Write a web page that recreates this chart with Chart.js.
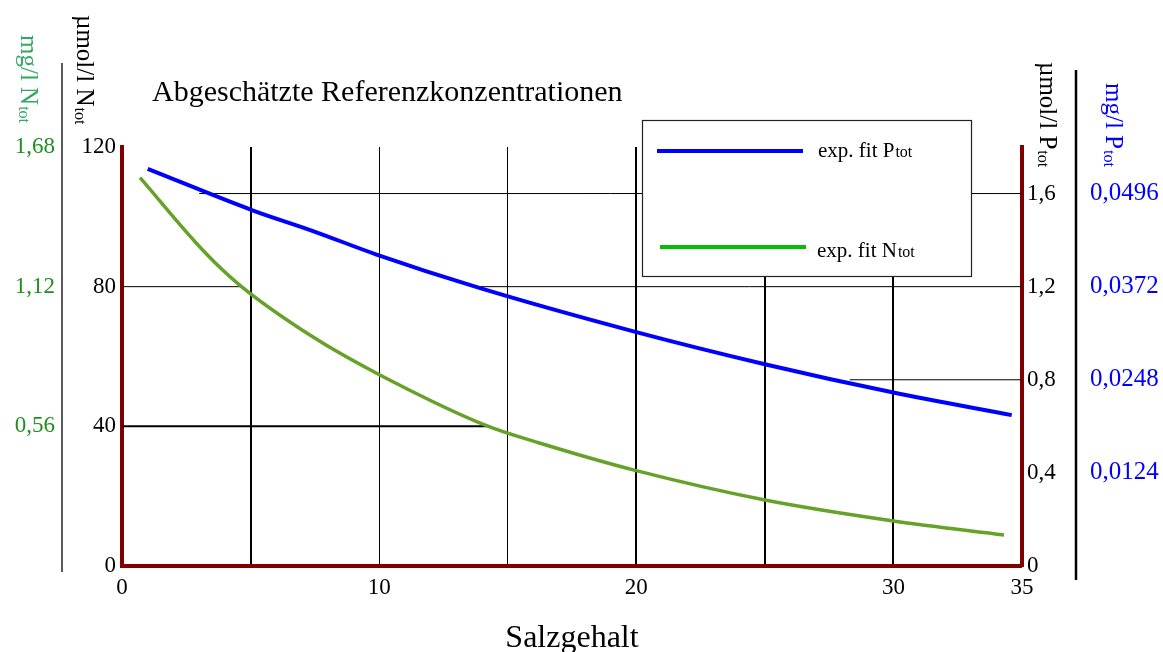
<!DOCTYPE html>
<html><head><meta charset="utf-8">
<script src="https://cdn.jsdelivr.net/npm/chart.js@4/dist/chart.umd.min.js"></script>
<style>html,body{margin:0;padding:0;background:#fff;}canvas{display:block;}</style>
</head><body>
<canvas id="c" width="1163" height="652"></canvas>
<script>
// ---- data ----
const salinityP = [1.0, 5.1, 7.4, 9.9, 13.8, 20.0, 25.0, 30.0, 34.6];
const ptotUmol  = [1.706, 1.527, 1.440, 1.338, 1.198, 1.005, 0.867, 0.745, 0.648];
const salinityN = [0.7, 3.2, 4.6, 7.4, 9.9, 14.2, 16.2, 20.0, 25.0, 30.0, 34.3];
const ntotUmol  = [111.2, 90.0, 80.3, 65.7, 55.2, 40.1, 35.3, 27.3, 18.9, 12.9, 8.9];
const xTicks    = [0, 5, 10, 15, 20, 25, 30, 35];
const xLabelled = [0, 10, 20, 30, 35];
const nTicks    = [0, 40, 80, 120];
const nMgTicks  = [0.56, 1.12, 1.68];
const pTicks    = [0, 0.4, 0.8, 1.2, 1.6];
const pMgTicks  = [0.0124, 0.0248, 0.0372, 0.0496];
const refNLevels = [80, 40];
const refNEnds   = [4.6, 14.2];
const refPLevels = [1.6, 1.2, 0.8];
const refPStarts = [3.0, 13.8, 28.3];
const titleText = 'Abgeschätzte Referenzkonzentrationen';
const xTitle = 'Salzgehalt';

const serif = "'Liberation Serif','Times New Roman',serif";
const axisRed = '#800000';
const curveGreen = '#66a22a';
const tickGreen = '#1f8f1f';
const titleGreen = '#35a862';
const thickX = [5, 20, 25, 30];
const thinX = [10, 15];

const toXY = (xs, ys) => xs.map((x, i) => ({x: x, y: ys[i]}));
const datasets = [
  {label: 'exp. fit Ptot', data: toXY(salinityP, ptotUmol), yAxisID: 'yP', borderColor: '#0000ff',
   borderWidth: 4, pointRadius: 0, cubicInterpolationMode: 'monotone', order: 0},
  {label: 'exp. fit Ntot', data: toXY(salinityN, ntotUmol), yAxisID: 'yN', borderColor: curveGreen,
   borderWidth: 3.5, pointRadius: 0, cubicInterpolationMode: 'monotone', order: 0}
];
refNLevels.forEach((v, i) => datasets.push({data: [{x: 0, y: v}, {x: refNEnds[i], y: v}], yAxisID: 'yN',
  borderColor: '#000', borderWidth: i === 1 ? 2 : 1, pointRadius: 0, order: 1}));
refPLevels.forEach((v, i) => datasets.push({data: [{x: refPStarts[i], y: v}, {x: 35, y: v}], yAxisID: 'yP',
  borderColor: '#000', borderWidth: 1, pointRadius: 0, order: 1}));

const setTicks = arr => scale => { scale.ticks = arr.map(v => ({value: v})); };
const comma = (v, d) => v.toFixed(d).replace('.', ',');

function rotText(ctx, x, y, main, sub, size, color) {
  ctx.save();
  ctx.translate(x, y);
  ctx.rotate(Math.PI / 2);
  ctx.fillStyle = color;
  ctx.textAlign = 'left';
  ctx.textBaseline = 'alphabetic';
  ctx.font = size + 'px ' + serif;
  ctx.fillText(main, 0, 0);
  const w = ctx.measureText(main).width;
  ctx.font = Math.round(size * 0.64) + 'px ' + serif;
  ctx.fillText(sub, w + 1, 2);
  ctx.restore();
}
function subText(ctx, x, y, main, sub, size, color) {
  ctx.save();
  ctx.fillStyle = color;
  ctx.textAlign = 'left';
  ctx.textBaseline = 'alphabetic';
  ctx.font = size + 'px ' + serif;
  ctx.fillText(main, x, y);
  const w = ctx.measureText(main).width;
  ctx.font = Math.round(size * 0.78) + 'px ' + serif;
  ctx.fillText(sub, x + w + 1, y);
  ctx.restore();
}

const decor = {
  id: 'decor',
  afterDatasetsDraw(chart) {
    const ctx = chart.ctx, a = chart.chartArea;
    // legend box
    const bx = a.left + 520, by = a.top - 27, bw = 329, bh = 156;
    ctx.save();
    ctx.fillStyle = '#fff';
    ctx.fillRect(bx, by, bw, bh);
    ctx.strokeStyle = '#222';
    ctx.lineWidth = 1.2;
    ctx.strokeRect(bx + 0.5, by + 0.5, bw, bh);
    ctx.lineWidth = 4;
    ctx.strokeStyle = chart.data.datasets[0].borderColor;
    ctx.beginPath(); ctx.moveTo(bx + 15, by + 31); ctx.lineTo(bx + 161, by + 31); ctx.stroke();
    ctx.strokeStyle = '#00c000';
    ctx.beginPath(); ctx.moveTo(bx + 18, by + 127); ctx.lineTo(bx + 164, by + 127); ctx.stroke();
    ctx.restore();
    subText(ctx, bx + 176, by + 37, 'exp. fit P', 'tot', 21, '#000');
    subText(ctx, bx + 175, by + 137, 'exp. fit N', 'tot', 21, '#000');
  },
  afterDraw(chart) {
    const ctx = chart.ctx, a = chart.chartArea, s = chart.scales;
    ctx.save();
    ctx.strokeStyle = '#000';
    ctx.lineWidth = 1.3;
    ctx.beginPath(); ctx.moveTo(s.yNmg.right, a.top - 84); ctx.lineTo(s.yNmg.right, a.bottom + 6); ctx.stroke();
    ctx.lineWidth = 2.5;
    ctx.beginPath(); ctx.moveTo(s.yPmg.left, a.top - 77); ctx.lineTo(s.yPmg.left, a.bottom + 14); ctx.stroke();
    ctx.fillStyle = '#000';
    ctx.font = '30px ' + serif;
    ctx.textBaseline = 'alphabetic';
    ctx.fillText(titleText, a.left + 30, a.top - 46);
    ctx.restore();
    rotText(ctx, s.yNmg.left + 21, a.top - 112, 'mg/l N', 'tot', 25, titleGreen);
    rotText(ctx, s.yN.left + 15, a.top - 132, 'µmol/l N', 'tot', 25, '#000');
    rotText(ctx, s.yP.left + 18, a.top - 85, 'µmol/l P', 'tot', 25, '#000');
    rotText(ctx, s.yPmg.left + 30, a.top - 64, 'mg/l P', 'tot', 25, '#0000ff');
  }
};

const tickFont = {family: serif, size: 23};
new Chart(document.getElementById('c'), {
  type: 'line',
  data: {datasets: datasets},
  plugins: [decor],
  options: {
    responsive: false,
    animation: false,
    devicePixelRatio: 1,
    layout: {padding: {top: 147, left: 0, right: 0, bottom: 0}},
    plugins: {legend: {display: false}, tooltip: {enabled: false}, title: {display: false}},
    scales: {
      x: {
        type: 'linear', position: 'bottom', min: 0, max: 35,
        afterBuildTicks: setTicks(xTicks),
        ticks: {font: tickFont, color: '#000', padding: 8, maxRotation: 0, autoSkip: false,
                callback: v => xLabelled.includes(v) ? String(v) : ''},
        grid: {color: '#000', drawTicks: false,
               lineWidth: c => thickX.includes(c.tick && c.tick.value) ? 2 : (thinX.includes(c.tick && c.tick.value) ? 1 : 0)},
        border: {color: axisRed, width: 4},
        title: {display: true, text: xTitle, color: '#000', font: {family: serif, size: 32}, padding: {top: 0, bottom: -6}},
        afterFit: sc => { sc.height = 86; }
      },
      yN: {
        position: 'left', weight: 0, min: 0, max: 120,
        afterBuildTicks: setTicks(nTicks),
        ticks: {font: tickFont, color: '#000', padding: 6},
        grid: {display: false, drawTicks: false},
        border: {color: axisRed, width: 4},
        afterFit: sc => { sc.width = 60; }
      },
      yNmg: {
        position: 'left', weight: 1, min: 0, max: 1.68,
        afterBuildTicks: setTicks(nMgTicks),
        ticks: {font: tickFont, color: tickGreen, padding: 7, callback: v => comma(v, 2)},
        grid: {display: false, drawTicks: false},
        border: {display: false},
        afterFit: sc => { sc.width = 62; }
      },
      yP: {
        position: 'right', weight: 0, min: 0, max: 1.8,
        afterBuildTicks: setTicks(pTicks),
        ticks: {font: tickFont, color: '#000', padding: 5, callback: v => v === 0 ? '0' : comma(v, 1)},
        grid: {display: false, drawTicks: false},
        border: {color: axisRed, width: 4},
        afterFit: sc => { sc.width = 54; }
      },
      yPmg: {
        position: 'right', weight: 1, min: 0, max: 0.0558,
        afterBuildTicks: setTicks(pMgTicks),
        ticks: {font: {family: serif, size: 25}, color: '#0000ff', padding: 14, callback: v => comma(v, 4)},
        grid: {display: false, drawTicks: false},
        border: {display: false},
        afterFit: sc => { sc.width = 87; }
      }
    }
  }
});
</script>
</body></html>
